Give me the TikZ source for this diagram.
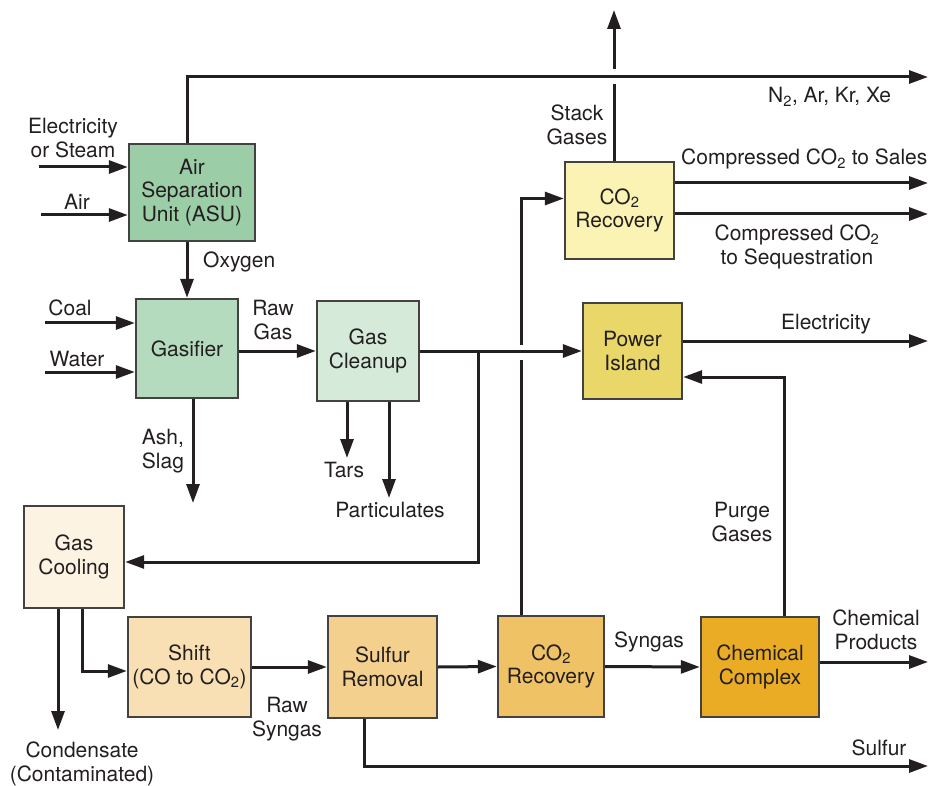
\documentclass[tikz,border=0pt]{standalone}
\usepackage{fontspec}
\setmainfont{TeX Gyre Heros}
\usepackage{xcolor}
\definecolor{ink}{RGB}{35,31,32}
\definecolor{asugreen}{RGB}{155,205,166}
\definecolor{gasgreen}{RGB}{181,219,191}
\definecolor{cleangreen}{RGB}{213,234,216}
\definecolor{coyellow}{RGB}{250,243,180}
\definecolor{poweryellow}{RGB}{233,215,106}
\definecolor{coolcream}{RGB}{253,243,227}
\definecolor{shiftbeige}{RGB}{248,223,180}
\definecolor{sulfurtan}{RGB}{243,208,142}
\definecolor{coorange}{RGB}{240,194,102}
\definecolor{chemgold}{RGB}{233,172,36}
\usepackage{tikz}
\usetikzlibrary{arrows.meta}
\newcommand{\cotwo}{CO\textsubscript{2}}

\begin{document}
\begin{tikzpicture}[x=1pt,y=-1pt,
  every node/.style={font=\fontsize{21}{23.5}\selectfont,text=ink},
  unit/.style={draw=ink!85,line width=2.4pt,inner sep=0pt,align=center},
  flow/.style={draw=ink,line width=3pt,-{Triangle[length=19pt,width=13pt]}},
  pipe/.style={draw=ink,line width=3pt},
  lbl/.style={align=center,inner sep=0pt}]
\useasboundingbox (0,0) rectangle (929,786);
% ---- UNITS ----
\node[unit,fill=asugreen,minimum width=126pt,minimum height=97pt] (asu) at (192,192.5) {Air\\Separation\\Unit (ASU)};
\node[unit,fill=gasgreen,minimum width=102pt,minimum height=99pt] (gasifier) at (187,348.5) {Gasifier};
\node[unit,fill=cleangreen,minimum width=102pt,minimum height=100pt] (cleanup) at (368,351) {Gas\\Cleanup};
\node[unit,fill=coyellow,minimum width=109pt,minimum height=97pt] (coup) at (619.5,210.5) {\cotwo\\Recovery};
\node[unit,fill=poweryellow,minimum width=99pt,minimum height=96pt] (power) at (632.5,351) {Power\\Island};
\node[unit,fill=coolcream,minimum width=100pt,minimum height=102pt] (cooling) at (74,557) {Gas\\Cooling};
\node[unit,fill=shiftbeige,minimum width=123pt,minimum height=100pt] (shift) at (189.5,667) {Shift\\(CO to \cotwo)};
\node[unit,fill=sulfurtan,minimum width=109pt,minimum height=102pt] (sulfur) at (382.5,667) {Sulfur\\Removal};
\node[unit,fill=coorange,minimum width=106pt,minimum height=101pt] (codown) at (551,666.5) {\cotwo\\Recovery};
\node[unit,fill=chemgold,minimum width=118pt,minimum height=100pt] (chem) at (760,667) {Chemical\\Complex};
% ---- FREE ENDS ----
\coordinate (inelec) at (39,167);
\coordinate (inair) at (41,215);
\coordinate (incoal) at (45,323);
\coordinate (inwater) at (45,372);
\coordinate (nitrocorner) at (187,77);
\coordinate (nitroout) at (928,77);
\coordinate (stacklo) at (614,84);
\coordinate (stackhi) at (614,69);
\coordinate (stackout) at (614,10);
\coordinate (tosales) at (928,183);
\coordinate (toseq) at (928,214);
\coordinate (elecout) at (928,341);
\coordinate (ashout) at (193,503);
\coordinate (tarsout) at (347,458);
\coordinate (partout) at (389,498);
\coordinate (split) at (478,351);
\coordinate (gaplo) at (521,360);
\coordinate (gaphi) at (521,345);
\coordinate (condout) at (58,730);
\coordinate (chemout) at (928,662);
\coordinate (sulfout) at (928,766);
% ---- STREAMS ----
\draw[flow] (inelec) -- (inelec -| asu.west);
\draw[flow] (inair) -- (inair -| asu.west);
\draw[flow] (nitrocorner |- asu.north) -- (nitrocorner) -- (nitroout);
\draw[flow] (gasifier.north |- asu.south) -- (gasifier.north);
\draw[flow] (incoal) -- (incoal -| gasifier.west);
\draw[flow] (inwater) -- (inwater -| gasifier.west);
\draw[flow] (gasifier.east |- cleanup.west) -- (cleanup.west);
\draw[flow] (ashout |- gasifier.south) -- (ashout);
\draw[flow] (tarsout |- cleanup.south) -- (tarsout);
\draw[flow] (partout |- cleanup.south) -- (partout);
\draw[flow] (cleanup.east) -- (power.west);
\draw[flow] (split) |- ([yshift=-5pt]cooling.east);
\draw[pipe] (gaplo |- codown.north) -- (gaplo);
\draw[flow] (gaphi) |- ([yshift=12pt]coup.west);
\draw[pipe] (stacklo |- coup.north) -- (stacklo);
\draw[flow] (stackhi) -- (stackout);
\draw[flow] (tosales -| coup.east) -- (tosales);
\draw[flow] (toseq -| coup.east) -- (toseq);
\draw[flow] (elecout -| power.east) -- (elecout);
\draw[flow] ([xshift=24pt]chem.north) |- ([yshift=-26pt]power.east);
\draw[flow] (condout |- cooling.south) -- (condout);
\draw[flow] ([xshift=8pt]cooling.south) |- ([yshift=-4pt]shift.west);
\draw[flow] (shift.east) -- (sulfur.west);
\draw[flow] (sulfur.east) -- (codown.west);
\draw[flow] (codown.east) -- (chem.west);
\draw[flow] (chemout -| chem.east) -- (chemout);
\draw[flow] ([xshift=-18pt]sulfur.south) |- (sulfout);
% ---- LABELS ----
\node[lbl] (lelec) at (73,138) {Electricity\\or Steam};
\node[lbl,anchor=base] (lair) at (77,210) {Air};
\node[lbl,anchor=base west] (loxy) at (203,268) {Oxygen};
\node[lbl,anchor=base] (lcoal) at (70,316) {Coal};
\node[lbl,anchor=base] (lwater) at (77,366) {Water};
\node[lbl] (lrawgas) at (273,320) {Raw\\Gas};
\node[lbl] (lash) at (163,451) {Ash,\\Slag};
\node[lbl,anchor=base] (ltars) at (344,477) {Tars};
\node[lbl,anchor=base] (lpart) at (390,517) {Particulates};
\node[lbl] (lstack) at (577,125) {Stack\\Gases};
\node[lbl,anchor=base west] (lnitro) at (768,103) {N\textsubscript{2}, Ar, Kr, Xe};
\node[lbl,anchor=base west] (lsales) at (681,165) {Compressed \cotwo{} to Sales};
\node[lbl] (lseq) at (797,247) {Compressed \cotwo\\to Sequestration};
\node[lbl,anchor=base] (lelecout) at (826,330) {Electricity};
\node[lbl] (lpurge) at (742,522) {Purge\\Gases};
\node[lbl,anchor=base] (lsyngas) at (649,647) {Syngas};
\node[lbl] (lprod) at (876,630) {Chemical\\Products};
\node[lbl,anchor=base] (lsulf) at (879,755) {Sulfur};
\node[lbl] (lrawsyn) at (287,719) {Raw\\Syngas};
\node[lbl] (lcond) at (82,764) {Condensate\\(Contaminated)};
\end{tikzpicture}
\end{document}
